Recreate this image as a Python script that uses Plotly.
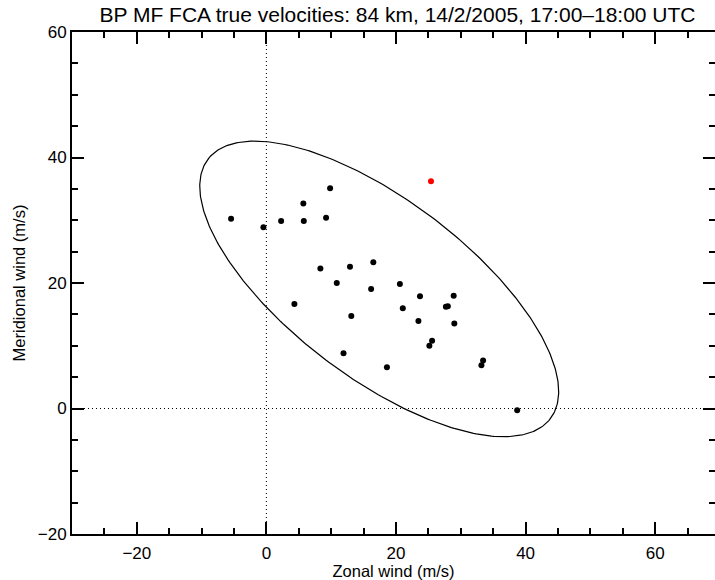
import numpy as np
import plotly.graph_objects as go

# wind estimates (m/s)
zonal = [-5.45, -0.46, 2.27, 5.7, 5.77, 9.83, 9.21, 8.33, 12.9, 16.5, 4.32, 10.86, 16.16, 20.6, 23.7,
         21.05, 13.1, 23.46, 27.7, 28.0, 25.57, 25.15, 11.9, 18.6, 28.9, 29.0, 33.44, 33.18, 38.7]
meridional = [30.25, 28.9, 29.9, 32.65, 29.9, 35.1, 30.4, 22.3, 22.6, 23.3, 16.64, 20.0, 19.04, 19.83, 17.87,
              15.96, 14.73, 13.93, 16.2, 16.3, 10.79, 9.99, 8.82, 6.59, 17.97, 13.56, 7.66, 6.91, -0.27]
outlier_zonal = [25.4]
outlier_meridional = [36.2]

# ellipse parameters
ellipse_center = (17.41, 19.06)
ellipse_semi_axes = (33.55, 14.00)
ellipse_angle = 141.6  # degrees

tick_vals = [-20, 0, 20, 40, 60]
tick_text = ['\u221220', '0', '20', '40', '60']

t = np.linspace(0, 2*np.pi, 361)
th = np.radians(ellipse_angle)
ex = ellipse_semi_axes[0]*np.cos(t)
ey = ellipse_semi_axes[1]*np.sin(t)
ell_x = ellipse_center[0] + ex*np.cos(th) - ey*np.sin(th)
ell_y = ellipse_center[1] + ex*np.sin(th) + ey*np.cos(th)

fig = go.Figure()
fig.add_trace(go.Scatter(x=ell_x, y=ell_y, mode='lines', line=dict(color='black', width=1.2), hoverinfo='skip'))
fig.add_trace(go.Scatter(x=zonal, y=meridional, mode='markers', marker=dict(size=6, color='black')))
fig.add_trace(go.Scatter(x=outlier_zonal, y=outlier_meridional, mode='markers', marker=dict(size=6, color='red')))
fig.add_trace(go.Scatter(x=[None], y=[None], yaxis='y2', showlegend=False, hoverinfo='skip'))

fig.add_vline(x=0, line=dict(color='black', width=1, dash='1px,3px'))
fig.add_hline(y=0, line=dict(color='black', width=1, dash='1px,3px'))

tick_style = dict(ticks='inside', ticklen=12, tickwidth=1.5, tickcolor='black',
                  minor=dict(dtick=5, tick0=0, ticks='inside', ticklen=6, tickwidth=1.5, tickcolor='black'))

fig.update_layout(
    title=dict(text='BP MF FCA true velocities: 84 km, 14/2/2005, 17:00\u201318:00 UTC',
               x=397.5/715, xanchor='center', y=1 - 15/580, yanchor='middle',
               font=dict(size=21, color='black')),
    width=715, height=580,
    margin=dict(l=72, r=0, t=32, b=46),
    showlegend=False,
    plot_bgcolor='white', paper_bgcolor='white',
    font=dict(family='Liberation Sans, Arial', color='black', size=17),
)
# plot box is cut at the right edge like the original (70 m/s would be just outside)
fig.update_xaxes(range=[-30, -30 + 643/6.48], tickvals=tick_vals, ticktext=tick_text, automargin=False,
                 showgrid=False, zeroline=False, showline=True, linecolor='black', linewidth=2,
                 mirror='ticks', ticklabelstandoff=3, **tick_style,
                 title=dict(text='Zonal wind (m/s)', font=dict(size=16.5), standoff=2),
                 tickfont=dict(size=17))
fig.update_layout(
    yaxis=dict(range=[-20, 60], tickvals=tick_vals, ticktext=tick_text, automargin=False,
               showgrid=False, zeroline=False, showline=True, linecolor='black', linewidth=2,
               **tick_style,
               title=dict(text='Meridional wind (m/s)', font=dict(size=16.5), standoff=8),
               tickfont=dict(size=17)),
    yaxis2=dict(range=[-20, 60], overlaying='y', side='right', showticklabels=False, automargin=False,
                tickvals=tick_vals, showgrid=False, zeroline=False, showline=False, **tick_style),
)

fig.write_html("out.html", config={'displayModeBar': False},
               post_script="document.body.style.margin='0px';")
